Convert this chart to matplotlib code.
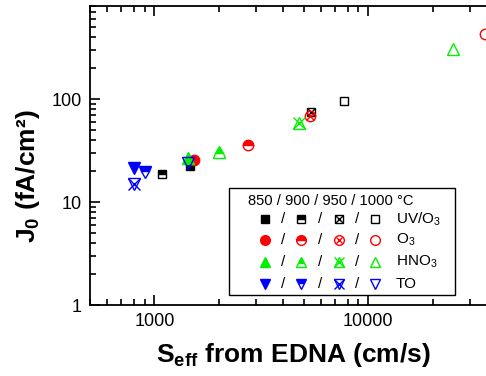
import matplotlib
matplotlib.use('Agg')
import matplotlib.pyplot as plt
from matplotlib.patches import Rectangle
from matplotlib.ticker import LogLocator, NullFormatter, FixedLocator

plt.rcParams['font.family'] = ['Liberation Sans', 'DejaVu Sans']
plt.rcParams['mathtext.fontset'] = 'custom'
plt.rcParams['mathtext.rm'] = 'Liberation Sans'
plt.rcParams['mathtext.bf'] = 'Liberation Sans:bold'

# Seff (cm/s) and J0 (fA/cm2) for 850 / 900 / 950 / 1000 C
seff_uvo3 = [1470, 1090, 5400, 7670]
j0_uvo3 = [22.2, 18.5, 74.0, 96.0]
seff_o3 = [1540, 2740, 5360, 35200]
j0_o3 = [25.4, 35.6, 68.7, 431]
seff_hno3 = [1440, 2000, 4750, 24900]
j0_hno3 = [27.0, 30.6, 59.0, 307]
seff_to = [800, 908, 800, 1440]
j0_to = [21.6, 19.5, 14.8, 24.1]

temps_title = '850 / 900 / 950 / 1000 °C'
series = [
    ('UV/O$_3$', seff_uvo3, j0_uvo3, 'black', 's', 6),
    ('O$_3$', seff_o3, j0_o3, '#ff0000', 'o', 7.5),
    ('HNO$_3$', seff_hno3, j0_hno3, '#00f000', '^', 8.5),
    ('TO', seff_to, j0_to, '#0000ff', 'v', 8.5),
]

fig = plt.figure(figsize=(4.86, 3.76), dpi=100)
ax = fig.add_axes([90 / 486, 71 / 376, 407 / 486, 299 / 376])
ax.set_xscale('log')
ax.set_yscale('log')
ax.set_xlim(500, 40000)
ax.set_ylim(1, 800)


def draw_marker(x, y, style, color, mk, ms, **kw):
    # style: 0 filled, 1 half, 2 crossed, 3 open
    base = dict(ls='none', marker=mk, ms=ms, mec=color, mew=1, clip_on=False)
    base.update(kw)
    if style == 0:
        ax.plot(x, y, mfc=color, **base)
    elif style == 1:
        ax.plot(x, y, mfc=color, fillstyle='top', markerfacecoloralt='white', **base)
    elif style == 2:
        ax.plot(x, y, mfc='none', **base)
        base['marker'] = 'x'
        base['ms'] = ms * 0.7 if mk == 'o' else ms
        ax.plot(x, y, **base)
    else:
        ax.plot(x, y, mfc='none', **base)


for label, sx, jy, color, mk, ms in series:
    for k in range(4):
        draw_marker([sx[k]], [jy[k]], k, color, mk, ms)

ax.xaxis.set_major_locator(FixedLocator([1000, 10000]))
ax.xaxis.set_minor_locator(LogLocator(base=10, subs=range(2, 10)))
ax.xaxis.set_minor_formatter(NullFormatter())
ax.yaxis.set_major_locator(FixedLocator([1, 10, 100]))
ax.yaxis.set_minor_locator(LogLocator(base=10, subs=range(2, 10)))
ax.yaxis.set_minor_formatter(NullFormatter())
ax.set_xticklabels(['1000', '10000'])
ax.set_yticklabels(['1', '10', '100'])
ax.tick_params(which='both', direction='in', top=True, right=True, width=1.2, labelsize=13)
ax.tick_params(which='major', length=7, pad=6)
ax.tick_params(which='minor', length=4)
for sp in ax.spines.values():
    sp.set_linewidth(1.3)

ax.set_xlabel(r'S$_{\mathbf{eff}}$ from EDNA (cm/s)', fontsize=19, fontweight='bold', labelpad=8)
ax.set_ylabel(r'J$_\mathbf{0}$ (fA/cm²)', fontsize=19, fontweight='bold')
ax.yaxis.set_label_coords(-0.118, 0.43)


# legend drawn by hand in figure pixels
def fx(px):
    return px / 486


def fy(py):
    return 1 - py / 376


tf = fig.transFigure
ax.add_patch(Rectangle((fx(229), fy(295)), fx(455) - fx(229), fy(188) - fy(295),
                       transform=tf, fc='white', ec='black', lw=1, zorder=5, clip_on=False))
ax.text(fx(248), fy(201), temps_title, fontsize=10.6, va='center', ha='left', transform=tf, zorder=6)
col_x = [265, 301, 339, 375]
slash_x = [283, 320, 357]
row_y = [219, 240, 262, 284]
for r, (label, sx, jy, color, mk, ms) in enumerate(series):
    for k in range(4):
        draw_marker([fx(col_x[k])], [fy(row_y[r])], k, color, mk, ms * 0.93,
                    transform=tf, zorder=7)
    for s in slash_x:
        ax.text(fx(s), fy(row_y[r]), '/', fontsize=11, va='center', ha='center', transform=tf, zorder=6)
    ax.text(fx(396), fy(row_y[r]), label, fontsize=11, va='center', ha='left', transform=tf, zorder=6)

fig.savefig('out.png', dpi=100)
